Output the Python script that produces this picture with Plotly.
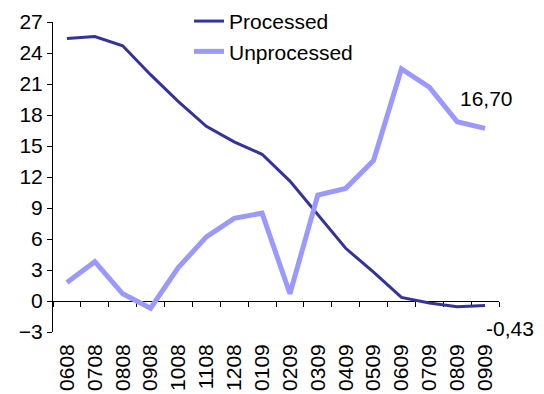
import plotly.graph_objects as go

# Monthly periods (MMYY)
periods = ["0608", "0708", "0808", "0908", "1008", "1108", "1208", "0109",
           "0209", "0309", "0409", "0509", "0609", "0709", "0809", "0909"]

processed = [25.4, 25.6, 24.7, 21.9, 19.3, 16.9, 15.4, 14.2,
             11.6, 8.3, 5.1, 2.8, 0.35, -0.2, -0.55, -0.43]

unprocessed = [1.8, 3.8, 0.7, -0.7, 3.25, 6.2, 8.0, 8.5,
               0.7, 10.25, 10.9, 13.6, 22.45, 20.7, 17.35, 16.70]

y_ticks = list(range(-3, 28, 3))

FONT = "Liberation Sans, Arial, sans-serif"
SIZE = 21
DARK = "#333399"
LIGHT = "#9999FF"


def fmt(v):
    return f"{v:.2f}".replace(".", ",")


fig = go.Figure()

fig.add_trace(go.Scatter(
    x=periods, y=processed, name="Processed", mode="lines",
    line=dict(color=DARK, width=3),
))
fig.add_trace(go.Scatter(
    x=periods, y=unprocessed, name="Unprocessed", mode="lines",
    line=dict(color=LIGHT, width=5),
))

# carrier trace for the category axis drawn along y = 0
fig.add_trace(go.Scatter(
    x=periods, y=processed, xaxis="x2", mode="lines",
    line=dict(width=0), opacity=0, showlegend=False, hoverinfo="skip",
))

# end-of-series value labels (x given as category index)
last = len(periods) - 1
fig.add_annotation(x=last, y=unprocessed[-1], text=fmt(unprocessed[-1]),
                   showarrow=False, xshift=1, yshift=30,
                   font=dict(family=FONT, size=SIZE, color="black"))
fig.add_annotation(x=last, y=processed[-1], text=fmt(processed[-1]),
                   showarrow=False, xshift=25, yshift=-23,
                   font=dict(family=FONT, size=SIZE, color="black"))

n = len(periods)
fig.update_layout(
    width=544, height=394,
    margin=dict(l=53, r=45, t=22, b=62, autoexpand=False),
    paper_bgcolor="white", plot_bgcolor="white",
    font=dict(family=FONT, size=SIZE, color="black"),
    showlegend=True,
    legend=dict(x=0.305, y=1.068, xanchor="left", yanchor="top",
                bgcolor="rgba(0,0,0,0)", font=dict(size=SIZE),
                tracegroupgap=0),
    xaxis=dict(
        type="category", categoryorder="array", categoryarray=periods,
        range=[-0.5, n - 0.5], showline=False, showgrid=False,
        ticks="", tickangle=-90, zeroline=False, automargin=False,
        ticklabelstandoff=7,
        tickfont=dict(family=FONT, size=SIZE),
    ),
    xaxis2=dict(
        type="category", categoryorder="array", categoryarray=periods,
        range=[-0.5, n - 0.5], overlaying="x", anchor="free", position=0.1,
        side="bottom", showline=True, linecolor="black", linewidth=1,
        ticks="outside", tickson="boundaries", ticklen=5, tickcolor="black",
        showticklabels=False, showgrid=False, layer="below traces",
    ),
    yaxis=dict(
        range=[-3, 27], tickvals=y_ticks, showgrid=False, zeroline=False,
        showline=True, linecolor="black", linewidth=1, automargin=False,
        ticks="outside", ticklen=5, tickcolor="black",
        tickfont=dict(family=FONT, size=SIZE), layer="below traces",
    ),
)

fig.write_html("out.html")
